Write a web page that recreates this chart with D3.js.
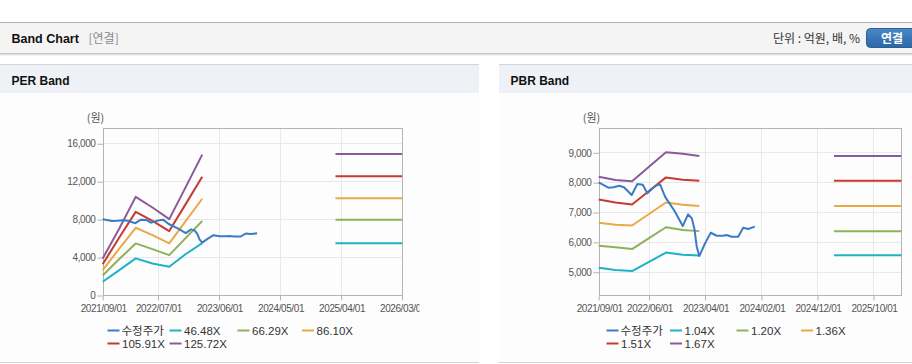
<!DOCTYPE html>
<html>
<head>
<meta charset="utf-8">
<script src="https://cdn.jsdelivr.net/npm/d3@7"></script>
<style>
    body { margin: 0; background: #fff; font-family: Arial, "Liberation Sans", "Noto Sans CJK KR", sans-serif; }
    svg { display: block; }
</style>
</head>
<body>
<svg id="band" width="912" height="364"></svg>
<script>
// Adjusted price (수정주가)
const priceDates = ['2021-09-01', '2021-10-23', '2021-11-20', '2021-12-22', '2022-01-16', '2022-02-27',
    '2022-03-30', '2022-04-28', '2022-05-23', '2022-06-21', '2022-07-13', '2022-07-31', '2022-08-27',
    '2022-10-20', '2022-12-01', '2022-12-30', '2023-01-19', '2023-02-02', '2023-02-15', '2023-03-01',
    '2023-04-01', '2023-05-02', '2023-06-03', '2023-07-09', '2023-07-27', '2023-08-23', '2023-09-28',
    '2023-10-25', '2023-11-21', '2023-12-27'];
const priceValues = [7990, 7815, 7830, 7880, 7830, 7570, 7940, 7915, 7625, 7795, 7895, 7925, 7515,
    7010, 6530, 6920, 6790, 6450, 5840, 5525, 5950, 6305, 6205, 6205, 6230, 6170, 6170,
    6475, 6430, 6510];

// Band dates (history + forward)
const bandDates = ['2021-09-01', '2021-12-01', '2022-03-01', '2022-06-01', '2022-09-01', '2022-12-01', '2023-03-01'];
const forwardDates = ['2025-03-01', '2026-03-01'];

// PER band
const perLabels = ['46.48X', '66.29X', '86.10X', '105.91X', '125.72X'];
const perBands = [
    [1400, 2630, 3860, 3330, 2980, 4320, 5470],
    [2050, 3790, 5440, 4840, 4210, 6030, 7800],
    [2620, 4880, 7090, 6320, 5440, 7820, 10150],
    [3250, 6070, 8770, 7820, 6740, 9610, 12460],
    [3850, 7020, 10350, 9230, 8000, 11400, 14800]
];
const perForward = [5470, 7930, 10210, 12530, 14875];
const perYTicks = [0, 4000, 8000, 12000, 16000];
const perXTicks = ['2021/09/01', '2022/07/01', '2023/06/01', '2024/05/01', '2025/04/01', '2026/03/01'];

// PBR band
const pbrLabels = ['1.04X', '1.20X', '1.36X', '1.51X', '1.67X'];
const pbrBands = [
    [5130, 5060, 5020, 5330, 5640, 5565, 5545],
    [5870, 5820, 5760, 6125, 6490, 6400, 6360],
    [6640, 6570, 6550, 6935, 7320, 7240, 7200],
    [7420, 7320, 7250, 7705, 8160, 8080, 8045],
    [8180, 8075, 8030, 8515, 9000, 8950, 8880]
];
const pbrForward = [5555, 6360, 7200, 8050, 8875];
const pbrYTicks = [5000, 6000, 7000, 8000, 9000];
const pbrXTicks = ['2021/09/01', '2022/06/01', '2023/04/01', '2024/02/01', '2024/12/01', '2025/10/01'];

const bandChart = (function () {

    let COLOR_PRICE = '#3b7bc6',
        COLOR_BANDS = ['#1fb2c6', '#8fb15a', '#eaa947', '#c63a30', '#8b5a9b'],
        parseDate = d3.utcParse('%Y-%m-%d'),
        parseTick = d3.utcParse('%Y/%m/%d'),
        d3svg = d3.select('#band')
    ;

    return { init };

    function init() {
        drawHeader();

        drawPanel({
            x: 0, w: 479, id: 'per', title: 'PER Band',
            left: 102.7, right: 402, top: 128.3, bottom: 295, clipRight: 419,
            yDomain: [0, 17580], yTicks: perYTicks, xTicks: perXTicks,
            labels: perLabels, bands: perBands, forward: perForward,
            legendX: [107.5, 169.5, 237.5, 302, 107.5, 169.5]
        });

        drawPanel({
            x: 499, w: 413, id: 'pbr', title: 'PBR Band',
            left: 598.7, right: 901.3, top: 128.3, bottom: 295, clipRight: 912,
            yDomain: [4220, 9805], yTicks: pbrYTicks, xTicks: pbrXTicks,
            labels: pbrLabels, bands: pbrBands, forward: pbrForward,
            legendX: [606.5, 670, 736.5, 801, 606.5, 670]
        });
    }

    function drawHeader() {
        let g = d3svg.append('g');

        // Shadow under the bar
        [['#f1f1f1', 55.5], ['#e2e2e2', 54.5], ['#c6c6c6', 53.5]].forEach((s) => {
            g.append('line').attr('x1', 0).attr('x2', 912).attr('y1', s[1]).attr('y2', s[1]).attr('stroke', s[0]);
        });
        g.append('rect').attr('x', 0).attr('y', 22).attr('width', 912).attr('height', 31).attr('fill', '#f4f4f4');
        g.append('line').attr('x1', 0).attr('x2', 912).attr('y1', 22.5).attr('y2', 22.5).attr('stroke', '#b4b4b4');

        g.append('text').attr('x', 11.5).attr('y', 42.5)
            .attr('font-size', 12.5).attr('font-weight', 'bold').attr('fill', '#111')
            .text('Band Chart');
        g.append('text').attr('x', 88.5).attr('y', 42.5)
            .attr('font-size', 12).attr('fill', '#8a8a8a')
            .attr('font-family', '"Noto Sans CJK KR", sans-serif')
            .text('[연결]');

        g.append('text').attr('x', 860).attr('y', 42.5).attr('text-anchor', 'end')
            .attr('font-size', 12).attr('fill', '#333')
            .attr('font-family', '"Noto Sans CJK KR", sans-serif')
            .text('단위 : 억원, 배, %');

        // Button
        let grad = d3svg.append('defs').append('linearGradient')
            .attr('id', 'btn').attr('x1', 0).attr('x2', 0).attr('y1', 0).attr('y2', 1);
        grad.append('stop').attr('offset', '0%').attr('stop-color', '#4a88c6');
        grad.append('stop').attr('offset', '100%').attr('stop-color', '#2c67a6');
        g.append('rect').attr('x', 866.5).attr('y', 28.5).attr('width', 52).attr('height', 19)
            .attr('rx', 4).attr('fill', 'url(#btn)').attr('stroke', '#2a5f99');
        g.append('text').attr('x', 892).attr('y', 42.5).attr('text-anchor', 'middle')
            .attr('font-size', 12).attr('font-weight', 'bold').attr('fill', '#fff')
            .attr('font-family', '"Noto Sans CJK KR", sans-serif')
            .text('연결');
    }

    function drawPanel(o) {
        let g = d3svg.append('g');

        // Panel frame
        g.append('rect').attr('x', o.x).attr('y', 64).attr('width', o.w).attr('height', 298).attr('fill', '#fdfdfd');
        g.append('rect').attr('x', o.x).attr('y', 64).attr('width', o.w).attr('height', 29).attr('fill', '#eef2f7');
        g.append('line').attr('x1', o.x).attr('x2', o.x + o.w).attr('y1', 64.5).attr('y2', 64.5).attr('stroke', '#d4d4d4');
        g.append('line').attr('x1', o.x).attr('x2', o.x + o.w).attr('y1', 362.5).attr('y2', 362.5).attr('stroke', '#d4d4d4');
        g.append('text').attr('x', o.x + 11.5).attr('y', 84.5)
            .attr('font-size', 12).attr('font-weight', 'bold').attr('fill', '#111')
            .text(o.title);

        // Scales
        let xScale = d3.scaleUtc()
                .domain([parseDate('2021-09-01'), parseDate('2026-03-01')])
                .range([o.left, o.right]),
            yScale = d3.scaleLinear().domain(o.yDomain).range([o.bottom, o.top]),
            xTickDates = o.xTicks.map(parseTick)
        ;

        // Grid
        g.append('g').selectAll('line').data(o.yTicks).join('line')
            .attr('x1', o.left).attr('x2', o.right)
            .attr('y1', (d) => Math.round(yScale(d)) + 0.5).attr('y2', (d) => Math.round(yScale(d)) + 0.5)
            .attr('stroke', '#e8e8e8');
        g.append('g').selectAll('line').data(xTickDates).join('line')
            .attr('x1', (d) => Math.round(xScale(d)) + 0.5).attr('x2', (d) => Math.round(xScale(d)) + 0.5)
            .attr('y1', o.top).attr('y2', o.bottom)
            .attr('stroke', '#e8e8e8');

        // Plot box
        g.append('rect')
            .attr('x', Math.round(o.left) + 0.5).attr('y', Math.round(o.top) + 0.5)
            .attr('width', Math.round(o.right) - Math.round(o.left))
            .attr('height', Math.round(o.bottom) - Math.round(o.top))
            .attr('fill', 'none').attr('stroke', '#b4b4b4');

        // Axes
        let clipId = 'clip-' + o.id;
        d3svg.select('defs').append('clipPath').attr('id', clipId)
            .append('rect').attr('x', o.x).attr('y', 0).attr('width', o.clipRight - o.x).attr('height', 364);

        let yAxis = d3.axisLeft(yScale).tickValues(o.yTicks).tickSize(6).tickPadding(2).tickFormat(d3.format(',')),
            xAxis = d3.axisBottom(xScale).tickValues(xTickDates).tickSize(5).tickPadding(4).tickFormat(d3.utcFormat('%Y/%m/%d'));

        let ga = g.append('g').attr('transform', 'translate(' + (Math.round(o.left) + 0.5) + ',0.5)').call(yAxis);
        let gx = g.append('g').attr('clip-path', 'url(#' + clipId + ')')
            .attr('transform', 'translate(0.5,' + (Math.round(o.bottom) + 0.5) + ')').call(xAxis);

        [ga, gx].forEach((a) => {
            a.select('.domain').remove();
            a.selectAll('.tick line').attr('stroke', '#b4b4b4');
            a.selectAll('.tick text')
                .attr('fill', '#555').attr('font-size', 10).attr('letter-spacing', -0.4)
                .attr('font-family', 'Arial, "Liberation Sans", sans-serif');
        });
        gx.selectAll('.tick line').attr('transform', 'translate(-0.5,0)');

        g.append('text').attr('x', o.left - 16).attr('y', 121.5)
            .attr('font-size', 11).attr('fill', '#555')
            .attr('font-family', '"Noto Sans CJK KR", sans-serif')
            .text('(원)');

        // Bands
        let line = d3.line()
            .x((d) => xScale(d.date))
            .y((d) => yScale(d.value));

        o.bands.forEach((values, i) => {
            let hist = bandDates.map((d, j) => ({ date: parseDate(d), value: values[j] })),
                fwd = forwardDates.map((d) => ({ date: parseDate(d), value: o.forward[i] }));
            [hist, fwd].forEach((seg) => {
                g.append('path').datum(seg).attr('d', line)
                    .attr('fill', 'none').attr('stroke', COLOR_BANDS[i]).attr('stroke-width', 2)
                    .attr('stroke-linejoin', 'round');
            });
        });

        // Price
        let price = priceDates.map((d, i) => ({ date: parseDate(d), value: priceValues[i] }));
        g.append('path').datum(price).attr('d', line)
            .attr('fill', 'none').attr('stroke', COLOR_PRICE).attr('stroke-width', 2)
            .attr('stroke-linejoin', 'round');

        // Legend
        let items = [{ name: '수정주가', color: COLOR_PRICE }]
            .concat(o.labels.map((l, i) => ({ name: l, color: COLOR_BANDS[i] })));

        let legend = g.append('g').selectAll('g').data(items).join('g')
            .attr('transform', (d, i) => 'translate(' + o.legendX[i] + ',' + (i < 4 ? 330 : 343) + ')');
        legend.append('line')
            .attr('x1', 0).attr('x2', 12).attr('y1', 0.5).attr('y2', 0.5)
            .attr('stroke', (d) => d.color).attr('stroke-width', 2);
        legend.append('text')
            .attr('x', (d, i) => i === 0 ? 14 : 14.5).attr('y', 4.5)
            .attr('font-size', 11.5).attr('fill', '#333')
            .attr('font-family', (d, i) => i === 0 ? '"Noto Sans CJK KR", sans-serif' : 'Arial, "Liberation Sans", sans-serif')
            .text((d) => d.name);
    }

}());

bandChart.init();
</script>
</body>
</html>
